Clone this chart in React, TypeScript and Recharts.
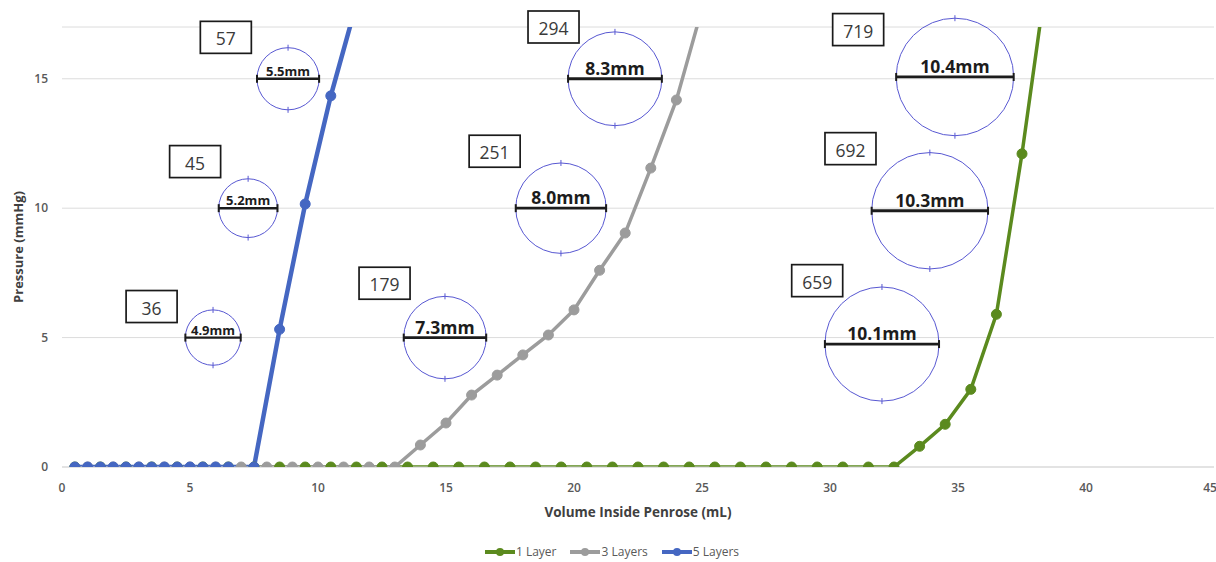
import React from 'react';
import { LineChart, Line, XAxis, YAxis, CartesianGrid, Legend, ReferenceDot } from 'recharts';

// ---- Series data ----
const layer1X = [0.5, 1.5, 2.5, 3.5, 4.5, 5.5, 6.5, 7.5, 8.5, 9.5, 10.5, 11.5, 12.5, 13.5, 14.5, 15.5, 16.5, 17.5, 18.5, 19.5, 20.5, 21.5, 22.5, 23.5, 24.5, 25.5, 26.5, 27.5, 28.5, 29.5, 30.5, 31.5, 32.5, 33.5, 34.5, 35.5, 36.5, 37.5, 38.5];
const layer1Y = [0, 0, 0, 0, 0, 0, 0, 0, 0, 0, 0, 0, 0, 0, 0, 0, 0, 0, 0, 0, 0, 0, 0, 0, 0, 0, 0, 0, 0, 0, 0, 0, 0, 0.8, 1.65, 3.0, 5.9, 12.1, 19.2];

const layer3X = [1, 2, 3, 4, 5, 6, 7, 8, 9, 10, 11, 12, 13, 14, 15, 16, 17, 18, 19, 20, 21, 22, 23, 24, 25];
const layer3Y = [0, 0, 0, 0, 0, 0, 0, 0, 0, 0, 0, 0, 0, 0.85, 1.7, 2.78, 3.55, 4.33, 5.1, 6.07, 7.6, 9.04, 11.55, 14.18, 17.7];

const layer5X = [0.5, 1, 1.5, 2, 2.5, 3, 3.5, 4, 4.5, 5, 5.5, 6, 6.5, 7.5, 8.5, 9.5, 10.5, 11.5];
const layer5Y = [0, 0, 0, 0, 0, 0, 0, 0, 0, 0, 0, 0, 0, 0, 5.32, 10.16, 14.34, 17.9];

const seriesNames = ['1 Layer', '3 Layers', '5 Layers'];
const seriesColors = ['#5B8A1E', '#9C9C9C', '#4567C2'];

// ---- Axes ----
const xTicks = [0, 5, 10, 15, 20, 25, 30, 35, 40, 45];
const yTicks = [0, 5, 10, 15];
const xTitle = 'Volume Inside Penrose (mL)';
const yTitle = 'Pressure (mmHg)';

// ---- Annotations (anchored in data coordinates) ----
const boxLabels = ['57', '45', '36', '179', '251', '294', '719', '692', '659'];
const boxX = [6.4, 5.2, 3.5, 12.6, 16.9, 19.2, 31.1, 30.8, 29.5];
const boxY = [16.6, 11.8, 6.2, 7.1, 12.2, 17.0, 16.9, 12.3, 7.2];

const ringMm = [4.9, 5.2, 5.5, 7.3, 8.0, 8.3, 10.1, 10.3, 10.4];
const ringX = [5.9, 7.27, 8.83, 14.96, 19.49, 21.6, 32.03, 33.9, 34.88];
const ringY = [5.0, 10.0, 15.0, 5.0, 10.0, 15.0, 4.75, 9.9, 15.07];

const toPoints = (xs: number[], ys: number[]) => xs.map((x, i) => ({ x, y: ys[i] }));
const seriesData = [toPoints(layer1X, layer1Y), toPoints(layer3X, layer3Y), toPoints(layer5X, layer5Y)];

const FONT = '"Open Sans", "Liberation Sans", sans-serif';
const PX_PER_MM = 5.65;

const makeRing = (mm: number) => (props: any) => {
  const { cx, cy } = props;
  const r = mm * PX_PER_MM;
  const big = r > 35;
  const ring = '#5858d2';
  const ink = '#1c1c1c';
  return (
    <g>
      <circle cx={cx} cy={cy} r={r} fill="none" stroke={ring} strokeWidth={1} />
      <line x1={cx} y1={cy - r - 3} x2={cx} y2={cy - r + 3} stroke={ring} strokeWidth={1} />
      <line x1={cx} y1={cy + r - 3} x2={cx} y2={cy + r + 3} stroke={ring} strokeWidth={1} />
      <line x1={cx - r} y1={cy} x2={cx + r} y2={cy} stroke={ink} strokeWidth={big ? 2.8 : 2.4} />
      <line x1={cx - r} y1={cy - 4} x2={cx - r} y2={cy + 4} stroke={ink} strokeWidth={2} />
      <line x1={cx + r} y1={cy - 4} x2={cx + r} y2={cy + 4} stroke={ink} strokeWidth={2} />
      <text
        x={cx}
        y={cy - (big ? 4 : 3)}
        textAnchor="middle"
        fontFamily={FONT}
        fontSize={big ? 17.5 : 13}
        fontWeight={700}
        fill={ink}
      >
        {`${mm.toFixed(1)}mm`}
      </text>
    </g>
  );
};

const makeBox = (label: string) => (props: any) => {
  const { cx, cy } = props;
  return (
    <g>
      <rect x={cx - 25.5} y={cy - 16} width={51} height={32} fill="#ffffff" stroke="#1a1a1a" strokeWidth={1.7} />
      <text
        x={cx}
        y={cy + 1}
        textAnchor="middle"
        dominantBaseline="central"
        fontFamily={FONT}
        fontSize={17.5}
        fill="#3a3a3a"
      >
        {label}
      </text>
    </g>
  );
};

const renderLegend = () => (
  <div
    style={{
      display: 'flex',
      justifyContent: 'center',
      alignItems: 'center',
      gap: 14,
      fontFamily: FONT,
      fontSize: 12,
      color: '#595959',
      lineHeight: '14px',
      paddingLeft: 8,
    }}
  >
    {seriesNames.map((name, i) => (
      <span key={name} style={{ display: 'flex', alignItems: 'center' }}>
        <svg width={30} height={10} style={{ marginRight: 1 }}>
          <line x1={0} y1={5} x2={30} y2={5} stroke={seriesColors[i]} strokeWidth={4} />
          <circle cx={15} cy={5} r={4} fill={seriesColors[i]} />
        </svg>
        <span>{name}</span>
      </span>
    ))}
  </div>
);

export default function App() {
  return (
    <div style={{ position: 'absolute', left: 0, top: 0, width: 1216, height: 562, background: '#ffffff' }}>
      <LineChart width={1216} height={562} margin={{ top: 27, right: 2, bottom: 55, left: 0 }}>
        <CartesianGrid vertical={false} stroke="#dcdcdc" strokeWidth={1} />
        <XAxis
          type="number"
          dataKey="x"
          domain={[0, 45]}
          ticks={xTicks}
          allowDataOverflow
          height={40}
          tickLine={false}
          axisLine={{ stroke: '#d9d9d9' }}
          tickMargin={10}
          tick={{ fontFamily: FONT, fontSize: 12, fontWeight: 600, fill: '#595959' }}
          label={{
            value: xTitle,
            position: 'bottom',
            offset: 0,
            style: { fontFamily: FONT, fontSize: 13.5, fontWeight: 700, fill: '#404040' },
          }}
        />
        <YAxis
          type="number"
          dataKey="y"
          domain={[0, 17]}
          ticks={yTicks}
          allowDataOverflow
          width={62}
          tickLine={false}
          axisLine={false}
          tickMargin={8}
          tick={{ fontFamily: FONT, fontSize: 12, fontWeight: 600, fill: '#595959' }}
          label={{
            value: yTitle,
            angle: -90,
            position: 'insideLeft',
            offset: 18,
            style: { fontFamily: FONT, fontSize: 13, fontWeight: 700, fill: '#404040', textAnchor: 'middle' },
          }}
        />
        <Legend
          verticalAlign="middle"
          align="center"
          layout="horizontal"
          content={renderLegend}
          wrapperStyle={{ top: 545, left: 0, width: 1216 }}
        />
        {seriesData.map((d, i) => (
          <Line
            key={seriesNames[i]}
            data={d}
            dataKey="y"
            name={seriesNames[i]}
            type="linear"
            stroke={seriesColors[i]}
            strokeWidth={i === 2 ? 4.5 : 3.5}
            dot={{ r: 5, fill: seriesColors[i], stroke: seriesColors[i], strokeWidth: 1 }}
            activeDot={false}
            isAnimationActive={false}
          />
        ))}
        {ringMm.map((mm, i) => (
          <ReferenceDot key={`ring-${i}`} x={ringX[i]} y={ringY[i]} r={1} ifOverflow="visible" shape={makeRing(mm)} />
        ))}
        {boxLabels.map((label, i) => (
          <ReferenceDot key={`box-${i}`} x={boxX[i]} y={boxY[i]} r={1} ifOverflow="visible" shape={makeBox(label)} />
        ))}
      </LineChart>
    </div>
  );
}
